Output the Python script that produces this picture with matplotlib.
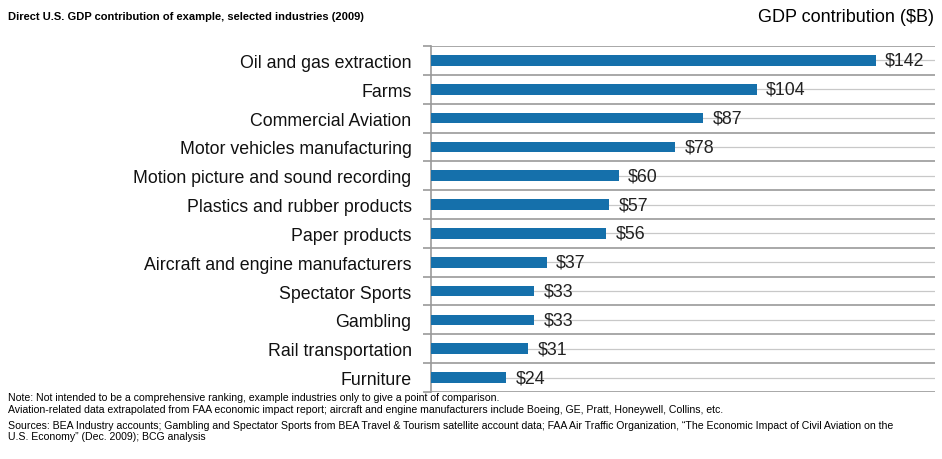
import matplotlib.pyplot as plt
import numpy as np

plt.rcParams['font.family'] = ['Liberation Sans', 'DejaVu Sans']

industries = ["Oil and gas extraction", "Farms", "Commercial Aviation",
              "Motor vehicles manufacturing", "Motion picture and sound recording",
              "Plastics and rubber products", "Paper products",
              "Aircraft and engine manufacturers", "Spectator Sports", "Gambling",
              "Rail transportation", "Furniture"]
gdp = [142, 104, 87, 78, 60, 57, 56, 37, 33, 33, 31, 24]

title = "Direct U.S. GDP contribution of example, selected industries (2009)"
unit_label = "GDP contribution ($B)"
notes = [
    "Note: Not intended to be a comprehensive ranking, example industries only to give a point of comparison.",
    "Aviation-related data extrapolated from FAA economic impact report; aircraft and engine manufacturers include Boeing, GE, Pratt, Honeywell, Collins, etc.",
]
sources = [
    "Sources: BEA Industry accounts; Gambling and Spectator Sports from BEA Travel & Tourism satellite account data; FAA Air Traffic Organization, \u201cThe Economic Impact of Civil Aviation on the",
    "U.S. Economy\u201d (Dec. 2009); BCG analysis",
]

fig = plt.figure(figsize=(9.42, 4.60), dpi=100)
ax = fig.add_axes([0.4575, 0.1457, 0.5351, 0.7521])

y = np.arange(len(industries))
ax.barh(y, gdp, height=0.37, color='#1570ab', zorder=3)
for yi, v in zip(y, gdp):
    ax.text(v + 3, yi, f"${v}", va='center', ha='left', fontsize=12.8,
            color='#222222', zorder=4)

ax.set_xlim(0, 161)
ax.set_ylim(len(industries) - 0.5, -0.5)
ax.set_xticks([])

# labels sit at the bar centres, separators at the category boundaries
ax.set_yticks(y)
ax.set_yticklabels(industries, fontsize=12.8, color='#111111')
ax.set_yticks(np.arange(-0.5, len(industries)), minor=True)
ax.tick_params(axis='y', which='major', length=0, pad=14)
ax.tick_params(axis='y', which='minor', length=6, width=1.2, color='#999999',
               direction='out')
ax.grid(axis='y', which='minor', color='#999999', linewidth=1.2, zorder=1)
ax.grid(axis='y', which='major', color='#c8c8c8', linewidth=0.9, zorder=1)
ax.set_axisbelow(True)

for side in ['top', 'right', 'bottom']:
    ax.spines[side].set_visible(False)
ax.spines['left'].set_color('#999999')
ax.spines['left'].set_linewidth(1.2)

fig.text(0.009, 0.962, title, fontsize=8, fontweight='bold', ha='left', va='center')
fig.text(0.992, 0.962, unit_label, fontsize=13, ha='right', va='center')

fig.text(0.009, 0.134, notes[0], fontsize=7.6, ha='left', va='center')
fig.text(0.009, 0.109, notes[1], fontsize=7.6, ha='left', va='center')
fig.text(0.009, 0.074, sources[0], fontsize=7.6, ha='left', va='center')
fig.text(0.009, 0.049, sources[1], fontsize=7.6, ha='left', va='center')

fig.savefig('out.png', dpi=100)
